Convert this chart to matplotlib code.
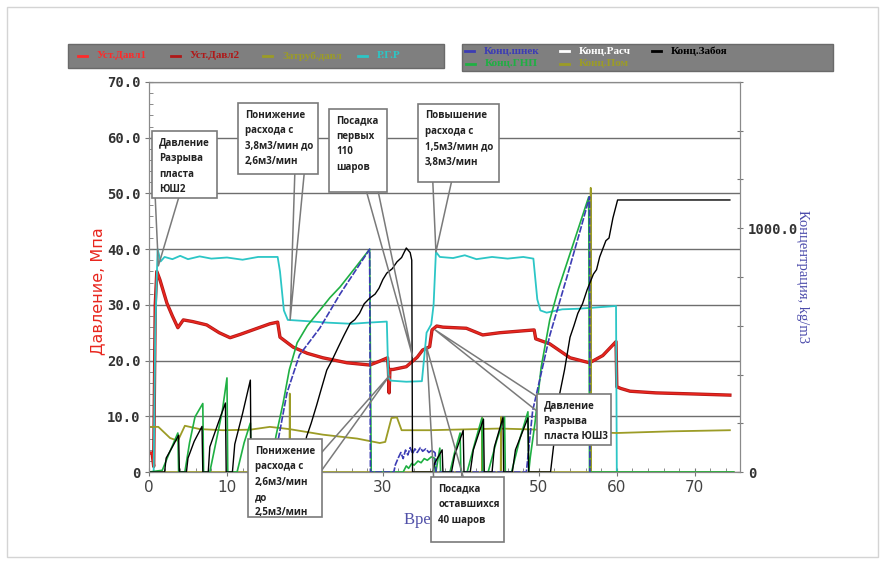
import numpy as np
import matplotlib.pyplot as plt
from matplotlib.patches import Rectangle
from matplotlib.lines import Line2D
from matplotlib.ticker import MultipleLocator, FixedLocator, FixedFormatter

# Давление (МПа), левая ось
red_t = [0, 0.4, 0.6, 0.8, 1.0, 1.4, 2.3, 3.0, 3.7, 4.4, 5.6, 7.4, 9.0, 10.4, 11.7, 13.3, 15.5, 16.5,
         16.8, 18.5, 20.3, 22.3, 25.4, 28.3, 29.6, 30.6, 30.7, 30.8, 30.9, 31.3, 33.0, 34.4, 35.1, 35.6,
         36.0, 36.3, 36.9, 37.7, 40.7, 42.8, 45.0, 49.4, 49.6, 51.4, 54.0, 56.5, 58.2, 59.9, 60.0, 60.5,
         61.7, 65.0, 70.0, 74.5]
red_v = [3.4, 3.4, 1.0, 30.0, 36.0, 34.5, 30.3, 28.0, 25.9, 27.3, 27.0, 26.4, 25.0, 24.1, 24.7, 25.5, 26.6, 26.9,
         24.2, 22.4, 21.3, 20.5, 19.6, 19.2, 19.9, 20.5, 18.5, 14.2, 18.4, 18.4, 18.9, 20.6, 21.9, 22.2,
         22.5, 25.5, 26.2, 26.0, 25.8, 24.6, 25.0, 25.5, 23.9, 23.0, 20.5, 19.6, 20.9, 23.4, 15.3, 15.0,
         14.5, 14.2, 14.0, 13.8]

cyan_t = [0, 0.6, 0.8, 1.1, 1.5, 2.0, 3.0, 4.0, 5.0, 6.5, 8.0, 10.0, 12.0, 14.0, 16.5, 16.8, 17.3, 17.8,
          20.0, 23.0, 26.0, 28.0, 30.5, 30.7, 31.0, 33.0, 35.0, 35.6, 36.2, 36.5, 36.8, 37.3, 39.0, 40.5,
          42.0, 44.0, 46.0, 48.0, 49.3, 49.8, 50.2, 51.0, 53.0, 55.0, 57.0, 59.9, 60.0]
cyan_v = [0, 0, 25.0, 40.0, 37.8, 38.6, 38.2, 38.8, 38.2, 38.7, 38.3, 38.5, 38.1, 38.6, 38.6, 36.0, 29.0, 27.3,
          27.1, 26.8, 26.6, 26.8, 27.0, 17.0, 16.4, 16.2, 16.3, 25.0, 26.5, 30.0, 39.5, 38.6, 38.4, 38.9,
          38.2, 38.6, 38.3, 38.6, 38.3, 31.0, 29.0, 28.6, 29.2, 29.3, 29.5, 29.8, 0]

olive_t = [0, 1.2, 2.7, 3.7, 4.6, 6.5, 9.5, 13.0, 15.5, 18.0, 22.3, 26.7, 29.6, 30.3, 31.1, 31.8, 32.4,
           36.0, 45.0, 50.0, 55.0, 60.0, 67.0, 74.5]
olive_v = [8.1, 8.1, 6.1, 5.6, 8.3, 7.7, 7.5, 7.6, 8.1, 7.7, 6.7, 6.0, 5.2, 5.4, 9.7, 9.8, 7.5,
           7.5, 7.8, 7.6, 7.2, 7.0, 7.3, 7.5]

# Концентрация (кг/м3), правая ось
black_t = [0, 2.0, 2.2, 3.0, 3.8, 3.9, 4.8, 5.0, 5.8, 6.8, 6.9, 7.6, 7.8, 8.8, 9.8, 9.9, 10.7, 11.0, 12.0,
           13.0, 13.1, 19.4, 20.2, 20.8, 21.5, 22.0, 22.8, 23.5, 24.3, 25.0, 25.8, 26.4, 27.0, 27.6, 28.3,
           29.0, 29.5, 30.0, 30.5, 31.2, 31.8, 32.4, 33.0, 33.5, 33.7, 33.8, 36.4, 36.6, 37.6, 37.7, 38.8,
           39.2, 40.3, 40.4, 41.2, 41.6, 42.9, 43.0, 44.0, 44.3, 45.4, 45.5, 46.6, 47.0, 48.6, 48.7, 51.5,
           52.0, 52.7, 53.3, 54.0, 54.5, 55.0, 55.6, 56.2, 57.0, 57.4, 57.8, 58.6, 59.0, 59.5, 60.1, 74.5]
black_c = [0, 0, 57, 103, 151, 0, 0, 57, 126, 187, 0, 0, 103, 194, 283, 0, 0, 114, 240,
           377, 0, 0, 144, 200, 274, 330, 418, 460, 514, 560, 610, 625, 651, 690, 713,
           730, 754, 790, 816, 834, 862, 880, 919, 900, 869, 0, 0, 34, 91, 0, 0,
           69, 171, 0, 0, 91, 217, 0, 0, 103, 224, 0, 0, 91, 222, 0, 0,
           137, 325, 420, 553, 600, 651, 690, 748, 812, 830, 882, 949, 960, 1042, 1116, 1116]

green_t = [0, 1.7, 2.5, 3.7, 3.8, 4.6, 5.2, 5.9, 6.9, 7.0, 7.8, 8.7, 9.4, 10.0, 10.1, 11.3, 12.2, 13.0,
           13.1, 15.5, 16.3, 17.2, 18.0, 19.0, 20.3, 21.9, 23.2, 24.5, 26.5, 28.3, 28.5, 32.6, 33.0, 33.3,
           33.7, 34.0, 34.5, 34.9, 35.3, 35.7, 36.2, 36.6, 36.7, 36.8, 37.3, 37.4, 38.6, 39.2, 39.9, 40.0,
           40.8, 41.8, 42.7, 42.8, 43.5, 44.6, 45.6, 45.7, 46.5, 47.6, 48.6, 48.7, 48.9, 49.5, 50.3, 51.4,
           52.5, 53.6, 55.3, 56.4, 56.5, 75]
green_c = [0, 7, 70, 160, 0, 0, 120, 226, 281, 0, 0, 140, 250, 386, 0, 0, 120, 201,
           0, 0, 150, 283, 420, 530, 600, 663, 715, 759, 840, 914, 0, 0, 25, 15,
           35, 28, 45, 38, 55, 48, 62, 57, 0, 0, 98, 0, 0, 80, 160, 0,
           0, 120, 222, 0, 0, 130, 226, 0, 0, 140, 247, 0, 60, 200, 430, 624,
           750, 857, 1022, 1129, 0, 0]

blue_t = [15.8, 17.7, 19.3, 21.9, 24.5, 28.3, 28.4, 31.4, 31.6, 32.0, 32.3, 32.6, 32.9, 33.2, 33.5, 33.8,
          34.1, 34.4, 34.8, 35.1, 35.5, 35.9, 36.3, 36.7, 36.8, 48.4, 49.2, 51.4, 53.6, 55.3, 56.5, 56.55]
blue_c = [0, 325, 480, 590, 730, 914, 0, 0, 30, 60, 80, 55, 90, 70, 100, 75,
          95, 80, 100, 85, 95, 80, 90, 78, 0, 0, 250, 560, 800, 990, 1129, 0]

pom_t = [0, 18.0, 18.05, 18.1, 42.7, 42.75, 42.8, 45.1, 45.15, 45.2, 56.6, 56.65, 56.7, 75]
pom_c = [0, 0, 322, 0, 0, 222, 0, 0, 226, 0, 0, 1166, 0, 0]

# подписи 20 и 40 закрыты выносками
x_labels = ['0', '10', '', '30', '', '50', '60', '70']
y_labels = ['0', '10.0', '20.0', '30.0', '40.0', '50.0', '60.0', '70.0']

C_RED, C_RED2, C_CYAN = '#e8261e', '#b01818', '#2cc6c6'
C_OLIVE, C_GREEN, C_BLUE = '#9c9c26', '#1fb043', '#3c3cb4'

# Выноски: текст, прямоугольник (t, v, ширина, высота), основание и конец хвоста
ann_text = ['Давление\nРазрыва\nпласта\nЮШ2',
            'Понижение\nрасхода с\n3,8м3/мин до\n2,6м3/мин',
            'Посадка\nпервых\n110\nшаров',
            'Повышение\nрасхода с\n1,5м3/мин до\n3,8м3/мин',
            'Понижение\nрасхода с\n2,6м3/мин\nдо\n2,5м3/мин',
            'Давление\nРазрыва\nпласта ЮШ3',
            'Посадка\nоставшихся\n40 шаров']
ann_box = [(0.4, 49.2, 8.3, 12.0), (11.4, 53.5, 10.3, 12.7), (23.1, 50.3, 7.4, 14.9),
           (34.5, 52.1, 10.4, 14.0), (12.7, -8.1, 9.5, 14.0), (49.7, 4.8, 9.5, 9.2),
           (36.2, -12.6, 9.3, 11.7)]
ann_tail = [((0.8, 49.2), (1.2, 37.0), (3.8, 49.2)),
            ((18.7, 53.5), (18.1, 27.3), (19.9, 53.5)),
            ((27.9, 50.3), (33.8, 20.8), (29.4, 50.3)),
            ((36.4, 52.1), (36.8, 39.5), (38.8, 52.1)),
            ((22.2, 3.6), (30.9, 17.4), (22.2, 0.4)),
            ((49.7, 13.6), (36.7, 25.5), (49.7, 11.0)),
            ((36.5, -0.9), (35.6, 22.4), (40.3, -0.9))]

W, H = 886, 564
fig = plt.figure(figsize=(W / 100, H / 100), dpi=100)


def px(x, y):
    return x / W, 1 - y / H


ax = fig.add_axes([149 / W, 1 - 472 / H, 591 / W, 390 / H])
ax.set_xlim(0, 75.8)
ax.set_ylim(0, 70)

ax.plot(red_t, red_v, color=C_RED2, lw=2.4, zorder=3)
ax.plot(red_t, red_v, color=C_RED, lw=1.3, zorder=3)
ax.plot(cyan_t, cyan_v, color=C_CYAN, lw=1.3, zorder=3)
ax.plot(olive_t, olive_v, color=C_OLIVE, lw=1.3, zorder=3)

ax.set_xticks(range(0, 71, 10))
ax.set_xticklabels(x_labels)
ax.xaxis.set_minor_locator(MultipleLocator(2))
ax.set_yticks(range(0, 71, 10))
ax.set_yticklabels(y_labels)
ax.yaxis.set_minor_locator(MultipleLocator(2))
ax.tick_params(axis='x', which='major', direction='inout', length=6, color='#777777',
               labelsize=11, labelcolor='#444444', pad=3)
ax.tick_params(axis='y', which='major', direction='inout', length=6, color='#777777',
               labelsize=10, labelcolor='#333333', pad=3)
ax.tick_params(which='minor', direction='in', length=3, color='#777777')
for lab in ax.get_yticklabels():
    lab.set_fontfamily('DejaVu Sans Mono')
    lab.set_fontweight('bold')
ax.yaxis.grid(True, color='#6e6e6e', lw=1)
ax.set_axisbelow(True)
for sp in ax.spines.values():
    sp.set_color('#8a8a8a')
ax.set_xlabel('Время, мин', family='Liberation Serif', fontsize=12, color='#5050a8', labelpad=12)

ax2 = ax.twinx()
ax2.set_ylim(0, 1600)
ax2.plot(pom_t, pom_c, color=C_OLIVE, lw=1.2)
ax2.plot(green_t, green_c, color=C_GREEN, lw=1.2)
ax2.plot(blue_t, blue_c, color=C_BLUE, lw=1.2, ls=(0, (4, 1)))
ax2.plot(black_t, black_c, color='black', lw=1.0)
ax2.yaxis.set_major_locator(FixedLocator(range(0, 1601, 200)))
ax2.yaxis.set_major_formatter(FixedFormatter(['0', '', '', '', '', '1000.0', '', '', '']))
ax2.tick_params(axis='y', direction='inout', length=5, color='#777777', labelsize=10,
                labelcolor='#333333', pad=3)
for lab in ax2.get_yticklabels():
    lab.set_fontfamily('DejaVu Sans Mono')
    lab.set_fontweight('bold')
for sp in ax2.spines.values():
    sp.set_color('#8a8a8a')

# выноски
for txt, (bx, by, bw, bh), (b1, tip, b2) in zip(ann_text, ann_box, ann_tail):
    ax2.add_artist(Line2D([b1[0], tip[0], b2[0]], [b1[1], tip[1], b2[1]], transform=ax.transData,
                          color='#7a7a7a', lw=1.1, clip_on=False, zorder=9))
    ax2.add_artist(Rectangle((bx, by), bw, bh, transform=ax.transData, facecolor='white',
                             edgecolor='#7a7a7a', lw=1.2, clip_on=False, zorder=10))
    ax2.text(bx + 0.9, by + bh - 1.2, txt, transform=ax.transData, ha='left', va='top',
             family='Open Sans', fontweight='bold', fontsize=7, color='#222222',
             linespacing=1.55, clip_on=False, zorder=11)

fig.text(*px(98, 291), 'Давление, Мпа', rotation=90, ha='center', va='center',
         fontsize=11.5, color=C_RED)
fig.text(*px(803, 277), 'Концентрация, kg/m3', rotation=-90, ha='center', va='center',
         family='Liberation Serif', fontsize=10.5, color='#4b4bab')

# легенда
fig.patches.append(Rectangle(px(68, 68), 376 / W, 24 / H, transform=fig.transFigure,
                             facecolor='#7f7f7f', edgecolor='#6a6a6a', lw=1))
fig.patches.append(Rectangle(px(462, 71), 371 / W, 27 / H, transform=fig.transFigure,
                             facecolor='#7f7f7f', edgecolor='#6a6a6a', lw=1))
leg_items = [(78, 56, 'Уст.Давл1', '#ff2a2a'), (171, 56, 'Уст.Давл2', C_RED2),
             (263, 56, 'Затруб.давл', C_OLIVE), (358, 56, 'Р.Г.Р', C_CYAN),
             (465, 51, 'Конц.шнек', C_BLUE), (560, 51, 'Конц.Расч', 'white'),
             (652, 51, 'Конц.Забоя', 'black'), (466, 64, 'Конц.ГНП', C_GREEN),
             (560, 64, 'Конц.Пом', C_OLIVE)]
for lx, ly, name, col in leg_items:
    x0, y0 = px(lx, ly)
    x1, _ = px(lx + 9, ly)
    fig.lines.append(Line2D([x0, x1], [y0, y0], transform=fig.transFigure, color=col, lw=2))
    fig.text(*px(lx + 19, ly), name, ha='left', va='center', family='Liberation Serif',
             fontweight='bold', fontsize=8, color=col)

# рамка вокруг рисунка
fig.patches.append(Rectangle(px(7, 557), 871 / W, 550 / H, transform=fig.transFigure,
                             fill=False, edgecolor='#d4d4d4', lw=1))

fig.savefig('out.png', dpi=100)
